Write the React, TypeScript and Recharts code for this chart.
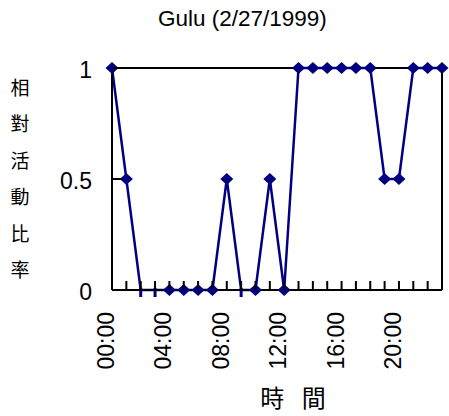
import React from "react";
import { LineChart, Line, XAxis, YAxis, ReferenceLine } from "recharts";

const hours = [0, 1, 2, 3, 4, 5, 6, 7, 8, 9, 10, 11, 12, 13, 14, 15, 16, 17, 18, 19, 20, 21, 22, 23];
const activity = [1, 0.5, 0, 0, 0, 0, 0, 0, 0.5, 0, 0, 0.5, 0, 1, 1, 1, 1, 1, 1, 0.5, 0.5, 1, 1, 1];
// hours drawn with a short dash instead of a diamond
const dashHours = [2, 3, 9];
const yTicks = [0, 0.5, 1];
const labelHours = [0, 4, 8, 12, 16, 20];

const title = "Gulu (2/27/1999)";
const yTitleChars = ["相", "對", "活", "動", "比", "率"];
const xTitle = "時 間";

const data = hours.map((h, i) => ({ hour: h, value: activity[i] }));

const latin = "'Liberation Sans', Arial, sans-serif";
const cjk = "'Noto Sans CJK TC', 'Noto Sans CJK SC', sans-serif";
const navy = "#000080";

const fmtHour = (h: number) => `${String(h).padStart(2, "0")}:00`;

// x tick: inward tick mark, rotated label every 4 hours
const HourTick = (props: any) => {
  const { x, y, payload } = props;
  const px = Number(x);
  const axisY = Number(y) - 22;
  return (
    <g className="hour-tick">
      <rect x={px - 1} y={axisY - 9} width={2} height={9} fill="#000" />
      {labelHours.includes(payload.value) && (
        <text
          transform={`translate(${px + 2},${y}) rotate(-90)`}
          textAnchor="end"
          fontSize={23}
          fontFamily={latin}
          fill="#000"
        >
          {fmtHour(payload.value)}
        </text>
      )}
    </g>
  );
};

const ValueTick = (props: any) => {
  const { x, y, payload } = props;
  const axisX = Number(x) + 20;
  const py = Number(y);
  return (
    <g className="value-tick">
      <rect x={axisX} y={py - 1} width={10} height={2} fill="#000" />
      <text x={x} y={py + 2} dy="0.355em" textAnchor="end" fontSize={23} fontFamily={latin} fill="#000">
        {payload.value}
      </text>
    </g>
  );
};

const Marker = (props: any) => {
  const { cx, cy, payload } = props;
  if (cx == null || cy == null) return null;
  if (dashHours.includes(payload.hour)) {
    return <line key={`d${payload.hour}`} x1={cx} x2={cx} y1={cy - 2} y2={cy + 7} stroke={navy} strokeWidth={3} />;
  }
  return (
    <path
      key={`d${payload.hour}`}
      d={`M${cx},${cy - 6}L${cx + 6.5},${cy}L${cx},${cy + 6}L${cx - 6.5},${cy}Z`}
      fill={navy}
    />
  );
};

const YTitle = (props: any) => {
  const vb = props.viewBox || { x: 0, y: 68 };
  return (
    <text fontSize={19} fontFamily={cjk} fill="#000" textAnchor="middle">
      {yTitleChars.map((c, i) => (
        <tspan key={c} x={vb.x + 20} y={vb.y + 27 + i * 36.4}>
          {c}
        </tspan>
      ))}
    </text>
  );
};

const XTitle = (props: any) => {
  const vb = props.viewBox || { x: 112, y: 290, width: 330 };
  return (
    <text x={296} y={vb.y + 117} fontSize={24} fontFamily={cjk} fill="#000" textAnchor="middle" letterSpacing={6} style={{ whiteSpace: "pre" }}>
      {xTitle}
    </text>
  );
};

export default function App() {
  return (
    <div style={{ position: "absolute", left: 0, top: 0, width: 449, height: 416, background: "#fff" }}>
      <div style={{ position: "absolute", left: 158, top: 8, fontSize: 22.5, lineHeight: 1, fontFamily: latin, whiteSpace: "nowrap", color: "#000" }}>
        {title}
      </div>
      <LineChart width={449} height={416} data={data} margin={{ top: 68, right: 7, bottom: 0, left: 0 }}>
        <XAxis
          type="number"
          dataKey="hour"
          domain={[0, 23]}
          ticks={hours}
          interval={0}
          height={126}
          tickSize={0}
          tickMargin={22}
          axisLine={{ stroke: "#000", strokeWidth: 2 }}
          tickLine={false}
          tick={<HourTick />}
          label={{ content: <XTitle /> }}
        />
        <YAxis
          type="number"
          domain={[0, 1]}
          ticks={yTicks}
          width={112}
          tickSize={0}
          tickMargin={20}
          axisLine={{ stroke: "#000", strokeWidth: 2 }}
          tickLine={false}
          tick={<ValueTick />}
          label={{ content: <YTitle /> }}
        />
        <ReferenceLine y={1} stroke="#000" strokeWidth={2} />
        <ReferenceLine x={23} stroke="#000" strokeWidth={2} />
        <Line type="linear" dataKey="value" stroke={navy} strokeWidth={2.5} dot={<Marker />} activeDot={false} isAnimationActive={false} />
      </LineChart>
    </div>
  );
}
